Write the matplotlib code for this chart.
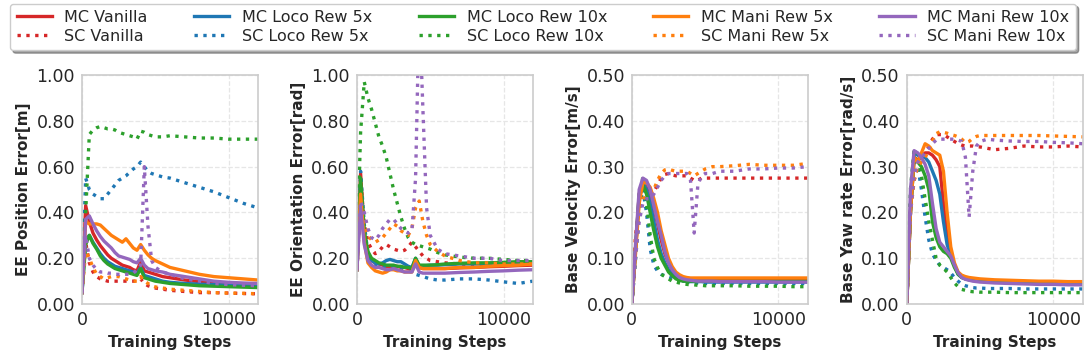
import matplotlib
matplotlib.use("Agg")
import matplotlib.pyplot as plt
from matplotlib.ticker import FormatStrFormatter

steps = [0, 250, 500, 750, 1000, 1250, 1500, 1750, 2000, 2250, 2500, 2750, 3000, 3250,
         3500, 3750, 4000, 4250, 4500, 4750, 5000, 5500, 6000, 7000, 8000, 9000, 10000, 11000, 12000]

labels = ["MC Vanilla", "SC Vanilla", "MC Loco Rew 5x", "SC Loco Rew 5x",
          "MC Loco Rew 10x", "SC Loco Rew 10x", "MC Mani Rew 5x", "SC Mani Rew 5x",
          "MC Mani Rew 10x", "SC Mani Rew 10x"]

ylabels = ["EE Position Error[m]", "EE Orientation Error[rad]",
           "Base Velocity Error[m/s]", "Base Yaw rate Error[rad/s]"]
ylims = [1.0, 1.0, 0.5, 0.5]
xticks = [0, 10000]

# ---- Panel 1: EE Position Error ----
pos_mc_vanilla = [0.05, 0.43, 0.36, 0.31, 0.28, 0.255, 0.235, 0.215, 0.20, 0.19, 0.18, 0.17, 0.165, 0.16, 0.15, 0.145, 0.185, 0.145, 0.14, 0.135, 0.13, 0.12, 0.115, 0.105, 0.098, 0.093, 0.09, 0.088, 0.085]
pos_sc_vanilla = [0.05, 0.27, 0.18, 0.14, 0.12, 0.11, 0.105, 0.10, 0.10, 0.10, 0.10, 0.10, 0.10, 0.10, 0.10, 0.10, 0.11, 0.09, 0.08, 0.075, 0.07, 0.065, 0.06, 0.055, 0.05, 0.05, 0.048, 0.046, 0.045]
pos_mc_loco5 = [0.05, 0.28, 0.30, 0.27, 0.245, 0.22, 0.20, 0.185, 0.175, 0.165, 0.16, 0.155, 0.15, 0.145, 0.14, 0.135, 0.16, 0.125, 0.12, 0.115, 0.11, 0.10, 0.095, 0.09, 0.087, 0.085, 0.083, 0.082, 0.08]
pos_sc_loco5 = [0.05, 0.55, 0.50, 0.48, 0.47, 0.46, 0.46, 0.48, 0.50, 0.52, 0.54, 0.55, 0.56, 0.575, 0.59, 0.60, 0.62, 0.60, 0.58, 0.57, 0.565, 0.555, 0.55, 0.53, 0.51, 0.49, 0.465, 0.44, 0.42]
pos_mc_loco10 = [0.05, 0.26, 0.30, 0.265, 0.24, 0.21, 0.19, 0.175, 0.165, 0.155, 0.15, 0.145, 0.14, 0.135, 0.13, 0.125, 0.155, 0.115, 0.11, 0.105, 0.10, 0.095, 0.09, 0.085, 0.08, 0.078, 0.076, 0.074, 0.072]
pos_sc_loco10 = [0.05, 0.40, 0.74, 0.76, 0.77, 0.775, 0.77, 0.765, 0.765, 0.76, 0.75, 0.745, 0.74, 0.735, 0.73, 0.72, 0.755, 0.75, 0.74, 0.735, 0.73, 0.73, 0.735, 0.73, 0.725, 0.725, 0.72, 0.72, 0.72]
pos_mc_mani5 = [0.05, 0.36, 0.35, 0.35, 0.35, 0.345, 0.33, 0.315, 0.30, 0.29, 0.28, 0.27, 0.285, 0.265, 0.245, 0.235, 0.26, 0.235, 0.215, 0.20, 0.19, 0.175, 0.16, 0.145, 0.13, 0.12, 0.115, 0.11, 0.105]
pos_sc_mani5 = [0.05, 0.23, 0.20, 0.16, 0.13, 0.12, 0.11, 0.115, 0.12, 0.12, 0.12, 0.115, 0.11, 0.105, 0.10, 0.10, 0.12, 0.10, 0.09, 0.08, 0.075, 0.07, 0.065, 0.06, 0.055, 0.05, 0.048, 0.047, 0.045]
pos_mc_mani10 = [0.05, 0.37, 0.385, 0.35, 0.32, 0.295, 0.275, 0.26, 0.245, 0.225, 0.21, 0.205, 0.20, 0.195, 0.185, 0.18, 0.20, 0.17, 0.155, 0.15, 0.145, 0.14, 0.13, 0.12, 0.11, 0.10, 0.095, 0.092, 0.09]
pos_sc_mani10 = [0.05, 0.30, 0.20, 0.17, 0.15, 0.14, 0.14, 0.135, 0.135, 0.13, 0.13, 0.13, 0.13, 0.13, 0.135, 0.15, 0.17, 0.60, 0.34, 0.19, 0.16, 0.14, 0.13, 0.11, 0.10, 0.09, 0.085, 0.082, 0.08]

# ---- Panel 2: EE Orientation Error ----
ori_mc_vanilla = [0.15, 0.57, 0.30, 0.21, 0.19, 0.18, 0.175, 0.17, 0.165, 0.165, 0.165, 0.165, 0.16, 0.16, 0.155, 0.155, 0.19, 0.16, 0.155, 0.155, 0.155, 0.155, 0.155, 0.158, 0.16, 0.163, 0.165, 0.168, 0.17]
ori_sc_vanilla = [0.15, 0.55, 0.35, 0.27, 0.24, 0.22, 0.23, 0.25, 0.26, 0.25, 0.24, 0.235, 0.23, 0.235, 0.25, 0.27, 0.25, 0.23, 0.21, 0.20, 0.19, 0.185, 0.18, 0.175, 0.17, 0.17, 0.17, 0.17, 0.17]
ori_mc_loco5 = [0.15, 0.50, 0.30, 0.21, 0.19, 0.18, 0.175, 0.18, 0.19, 0.195, 0.19, 0.185, 0.185, 0.175, 0.165, 0.16, 0.20, 0.165, 0.165, 0.168, 0.17, 0.17, 0.172, 0.175, 0.175, 0.178, 0.18, 0.182, 0.182]
ori_sc_loco5 = [0.15, 0.58, 0.35, 0.22, 0.18, 0.17, 0.165, 0.16, 0.16, 0.16, 0.16, 0.158, 0.155, 0.15, 0.145, 0.14, 0.13, 0.125, 0.12, 0.115, 0.11, 0.105, 0.105, 0.11, 0.11, 0.105, 0.097, 0.09, 0.10]
ori_mc_loco10 = [0.15, 0.55, 0.32, 0.23, 0.20, 0.19, 0.18, 0.175, 0.17, 0.17, 0.17, 0.165, 0.165, 0.16, 0.16, 0.155, 0.20, 0.17, 0.17, 0.17, 0.17, 0.172, 0.175, 0.178, 0.18, 0.18, 0.182, 0.185, 0.185]
ori_sc_loco10 = [0.20, 0.75, 0.97, 0.90, 0.85, 0.79, 0.73, 0.69, 0.64, 0.57, 0.50, 0.44, 0.38, 0.33, 0.29, 0.27, 0.26, 0.255, 0.25, 0.245, 0.24, 0.225, 0.215, 0.205, 0.20, 0.20, 0.195, 0.19, 0.19]
ori_mc_mani5 = [0.15, 0.48, 0.27, 0.18, 0.16, 0.145, 0.14, 0.135, 0.14, 0.15, 0.15, 0.145, 0.145, 0.14, 0.14, 0.14, 0.19, 0.16, 0.155, 0.155, 0.155, 0.155, 0.155, 0.16, 0.16, 0.165, 0.168, 0.17, 0.175]
ori_sc_mani5 = [0.15, 0.45, 0.35, 0.30, 0.28, 0.27, 0.28, 0.29, 0.31, 0.33, 0.35, 0.34, 0.32, 0.31, 0.30, 0.33, 0.42, 0.45, 0.36, 0.30, 0.26, 0.23, 0.21, 0.19, 0.18, 0.18, 0.175, 0.175, 0.175]
ori_mc_mani10 = [0.15, 0.42, 0.26, 0.19, 0.17, 0.16, 0.16, 0.155, 0.15, 0.15, 0.155, 0.15, 0.145, 0.14, 0.14, 0.14, 0.175, 0.14, 0.135, 0.135, 0.135, 0.135, 0.135, 0.138, 0.14, 0.143, 0.145, 0.148, 0.15]
ori_sc_mani10 = [0.15, 0.45, 0.40, 0.33, 0.29, 0.28, 0.30, 0.33, 0.35, 0.37, 0.37, 0.35, 0.33, 0.32, 0.31, 0.32, 0.55, 1.30, 0.85, 0.42, 0.30, 0.24, 0.22, 0.21, 0.20, 0.20, 0.19, 0.19, 0.19]

# ---- Panel 3: Base Velocity Error ----
vel_mc_vanilla = [0.0, 0.12, 0.24, 0.27, 0.265, 0.245, 0.21, 0.175, 0.14, 0.11, 0.09, 0.075, 0.065, 0.06, 0.056, 0.054, 0.053, 0.053, 0.052, 0.052, 0.052, 0.052, 0.052, 0.052, 0.052, 0.052, 0.052, 0.052, 0.052]
vel_sc_vanilla = [0.0, 0.15, 0.21, 0.23, 0.23, 0.235, 0.245, 0.26, 0.275, 0.283, 0.285, 0.282, 0.28, 0.28, 0.28, 0.28, 0.275, 0.27, 0.27, 0.275, 0.275, 0.275, 0.275, 0.275, 0.275, 0.275, 0.275, 0.275, 0.275]
vel_mc_loco5 = [0.0, 0.12, 0.23, 0.265, 0.25, 0.22, 0.18, 0.14, 0.11, 0.09, 0.075, 0.065, 0.058, 0.054, 0.05, 0.05, 0.049, 0.049, 0.049, 0.049, 0.048, 0.048, 0.048, 0.048, 0.048, 0.048, 0.048, 0.048, 0.048]
vel_sc_loco5 = [0.0, 0.10, 0.20, 0.25, 0.20, 0.12, 0.085, 0.072, 0.065, 0.062, 0.06, 0.057, 0.055, 0.052, 0.05, 0.048, 0.047, 0.046, 0.046, 0.045, 0.045, 0.045, 0.045, 0.045, 0.045, 0.045, 0.045, 0.045, 0.045]
vel_mc_loco10 = [0.0, 0.12, 0.24, 0.26, 0.24, 0.20, 0.16, 0.125, 0.10, 0.085, 0.07, 0.062, 0.055, 0.052, 0.05, 0.05, 0.05, 0.05, 0.05, 0.05, 0.05, 0.05, 0.05, 0.05, 0.05, 0.05, 0.05, 0.05, 0.05]
vel_sc_loco10 = [0.0, 0.10, 0.20, 0.28, 0.22, 0.15, 0.10, 0.08, 0.065, 0.06, 0.055, 0.05, 0.048, 0.046, 0.044, 0.043, 0.042, 0.042, 0.041, 0.041, 0.04, 0.04, 0.04, 0.04, 0.039, 0.039, 0.039, 0.038, 0.038]
vel_mc_mani5 = [0.0, 0.11, 0.22, 0.265, 0.265, 0.255, 0.23, 0.20, 0.16, 0.13, 0.10, 0.082, 0.07, 0.064, 0.06, 0.058, 0.057, 0.057, 0.057, 0.057, 0.057, 0.057, 0.057, 0.057, 0.057, 0.057, 0.057, 0.057, 0.057]
vel_sc_mani5 = [0.0, 0.14, 0.21, 0.23, 0.235, 0.24, 0.25, 0.27, 0.285, 0.293, 0.295, 0.292, 0.29, 0.29, 0.29, 0.29, 0.285, 0.28, 0.285, 0.29, 0.295, 0.30, 0.30, 0.302, 0.305, 0.303, 0.303, 0.303, 0.307]
vel_mc_mani10 = [0.0, 0.13, 0.25, 0.275, 0.27, 0.25, 0.215, 0.18, 0.15, 0.115, 0.09, 0.075, 0.065, 0.058, 0.055, 0.053, 0.052, 0.051, 0.05, 0.05, 0.05, 0.05, 0.049, 0.049, 0.049, 0.049, 0.048, 0.048, 0.048]
vel_sc_mani10 = [0.0, 0.10, 0.18, 0.22, 0.23, 0.23, 0.24, 0.255, 0.27, 0.28, 0.285, 0.285, 0.285, 0.285, 0.285, 0.285, 0.27, 0.155, 0.26, 0.28, 0.285, 0.285, 0.29, 0.29, 0.295, 0.295, 0.297, 0.297, 0.30]

# ---- Panel 4: Base Yaw rate Error ----
yaw_mc_vanilla = [0.0, 0.20, 0.32, 0.315, 0.32, 0.33, 0.33, 0.325, 0.315, 0.30, 0.22, 0.145, 0.11, 0.085, 0.068, 0.062, 0.058, 0.056, 0.055, 0.054, 0.053, 0.052, 0.051, 0.05, 0.049, 0.048, 0.048, 0.047, 0.047]
yaw_sc_vanilla = [0.0, 0.20, 0.27, 0.30, 0.315, 0.33, 0.345, 0.36, 0.37, 0.37, 0.37, 0.365, 0.36, 0.355, 0.35, 0.347, 0.345, 0.345, 0.345, 0.343, 0.343, 0.34, 0.337, 0.34, 0.345, 0.343, 0.343, 0.345, 0.343]
yaw_mc_loco5 = [0.0, 0.20, 0.33, 0.325, 0.32, 0.32, 0.31, 0.29, 0.27, 0.24, 0.18, 0.13, 0.105, 0.085, 0.065, 0.058, 0.055, 0.053, 0.052, 0.051, 0.05, 0.05, 0.049, 0.048, 0.047, 0.046, 0.046, 0.045, 0.045]
yaw_sc_loco5 = [0.0, 0.22, 0.31, 0.30, 0.25, 0.19, 0.14, 0.11, 0.095, 0.085, 0.08, 0.075, 0.068, 0.058, 0.05, 0.043, 0.04, 0.038, 0.036, 0.035, 0.035, 0.034, 0.034, 0.034, 0.033, 0.033, 0.033, 0.033, 0.033]
yaw_mc_loco10 = [0.0, 0.20, 0.32, 0.31, 0.30, 0.28, 0.25, 0.18, 0.145, 0.125, 0.115, 0.11, 0.10, 0.08, 0.065, 0.058, 0.055, 0.053, 0.052, 0.051, 0.05, 0.049, 0.048, 0.047, 0.046, 0.046, 0.045, 0.045, 0.045]
yaw_sc_loco10 = [0.0, 0.25, 0.34, 0.32, 0.28, 0.23, 0.18, 0.14, 0.10, 0.085, 0.078, 0.07, 0.058, 0.046, 0.038, 0.032, 0.03, 0.028, 0.027, 0.027, 0.026, 0.026, 0.026, 0.025, 0.025, 0.025, 0.025, 0.025, 0.025]
yaw_mc_mani5 = [0.0, 0.20, 0.32, 0.31, 0.33, 0.35, 0.345, 0.335, 0.33, 0.325, 0.29, 0.20, 0.125, 0.09, 0.07, 0.063, 0.06, 0.058, 0.057, 0.056, 0.055, 0.054, 0.053, 0.052, 0.051, 0.05, 0.05, 0.049, 0.049]
yaw_sc_mani5 = [0.0, 0.20, 0.27, 0.30, 0.31, 0.32, 0.335, 0.355, 0.372, 0.376, 0.375, 0.373, 0.37, 0.368, 0.365, 0.36, 0.352, 0.355, 0.362, 0.366, 0.368, 0.368, 0.368, 0.368, 0.368, 0.368, 0.367, 0.366, 0.365]
yaw_mc_mani10 = [0.0, 0.25, 0.335, 0.33, 0.32, 0.305, 0.28, 0.22, 0.165, 0.135, 0.125, 0.115, 0.105, 0.085, 0.068, 0.058, 0.054, 0.052, 0.05, 0.049, 0.048, 0.047, 0.046, 0.045, 0.044, 0.043, 0.043, 0.042, 0.042]
yaw_sc_mani10 = [0.0, 0.20, 0.28, 0.31, 0.32, 0.33, 0.34, 0.35, 0.358, 0.36, 0.36, 0.36, 0.36, 0.36, 0.358, 0.355, 0.32, 0.19, 0.29, 0.345, 0.355, 0.36, 0.358, 0.356, 0.355, 0.355, 0.353, 0.352, 0.35]

panels = [
    [pos_mc_vanilla, pos_sc_vanilla, pos_mc_loco5, pos_sc_loco5, pos_mc_loco10, pos_sc_loco10, pos_mc_mani5, pos_sc_mani5, pos_mc_mani10, pos_sc_mani10],
    [ori_mc_vanilla, ori_sc_vanilla, ori_mc_loco5, ori_sc_loco5, ori_mc_loco10, ori_sc_loco10, ori_mc_mani5, ori_sc_mani5, ori_mc_mani10, ori_sc_mani10],
    [vel_mc_vanilla, vel_sc_vanilla, vel_mc_loco5, vel_sc_loco5, vel_mc_loco10, vel_sc_loco10, vel_mc_mani5, vel_sc_mani5, vel_mc_mani10, vel_sc_mani10],
    [yaw_mc_vanilla, yaw_sc_vanilla, yaw_mc_loco5, yaw_sc_loco5, yaw_mc_loco10, yaw_sc_loco10, yaw_mc_mani5, yaw_sc_mani5, yaw_mc_mani10, yaw_sc_mani10],
]

colors = ["#d62728", "#d62728", "#1f77b4", "#1f77b4", "#2ca02c", "#2ca02c",
          "#ff7f0e", "#ff7f0e", "#9467bd", "#9467bd"]
styles = ["-", ":", "-", ":", "-", ":", "-", ":", "-", ":"]

plt.rcParams["font.family"] = ["DejaVu Sans"]
text_col = "#262626"

fig, axes = plt.subplots(1, 4, figsize=(10.86, 3.59), dpi=100)
fig.subplots_adjust(left=0.0755, right=0.997, bottom=0.153, top=0.791, wspace=0.5625)

handles = []
for ax, data, ylab, ym in zip(axes, panels, ylabels, ylims):
    for series, c, ls, lab in zip(data, colors, styles, labels):
        h, = ax.plot(steps, series, color=c, linestyle=ls, linewidth=2.4, label=lab)
        if ax is axes[0]:
            handles.append(h)
    ax.set_xlim(0, 12000)
    ax.set_ylim(0, ym)
    ax.set_xticks(xticks)
    ax.set_yticks([ym * i / 5 for i in range(6)])
    ax.yaxis.set_major_formatter(FormatStrFormatter("%.2f"))
    ax.tick_params(axis="both", length=0, labelsize=12.5, labelcolor=text_col, pad=5)
    ax.grid(True, linestyle="--", color="#e6e6e6", linewidth=0.9)
    ax.set_axisbelow(True)
    for sp in ax.spines.values():
        sp.set_color("#cccccc")
        sp.set_linewidth(1.2)
    ax.set_ylabel(ylab, fontsize=11, fontweight="bold", color=text_col, labelpad=4)
    ax.set_xlabel("Training Steps", fontsize=11, fontweight="bold", color=text_col, labelpad=4)

leg = fig.legend(handles=handles, labels=labels, loc="upper center", ncol=5,
                 bbox_to_anchor=(0.5, 0.99), fontsize=11.5, frameon=True, shadow=True,
                 fancybox=True, handlelength=2.2, columnspacing=2.9,
                 borderaxespad=0.0, labelspacing=0.25)
leg.get_frame().set_edgecolor("#cccccc")
for t in leg.get_texts():
    t.set_color(text_col)

fig.savefig("out.png", dpi=100)
